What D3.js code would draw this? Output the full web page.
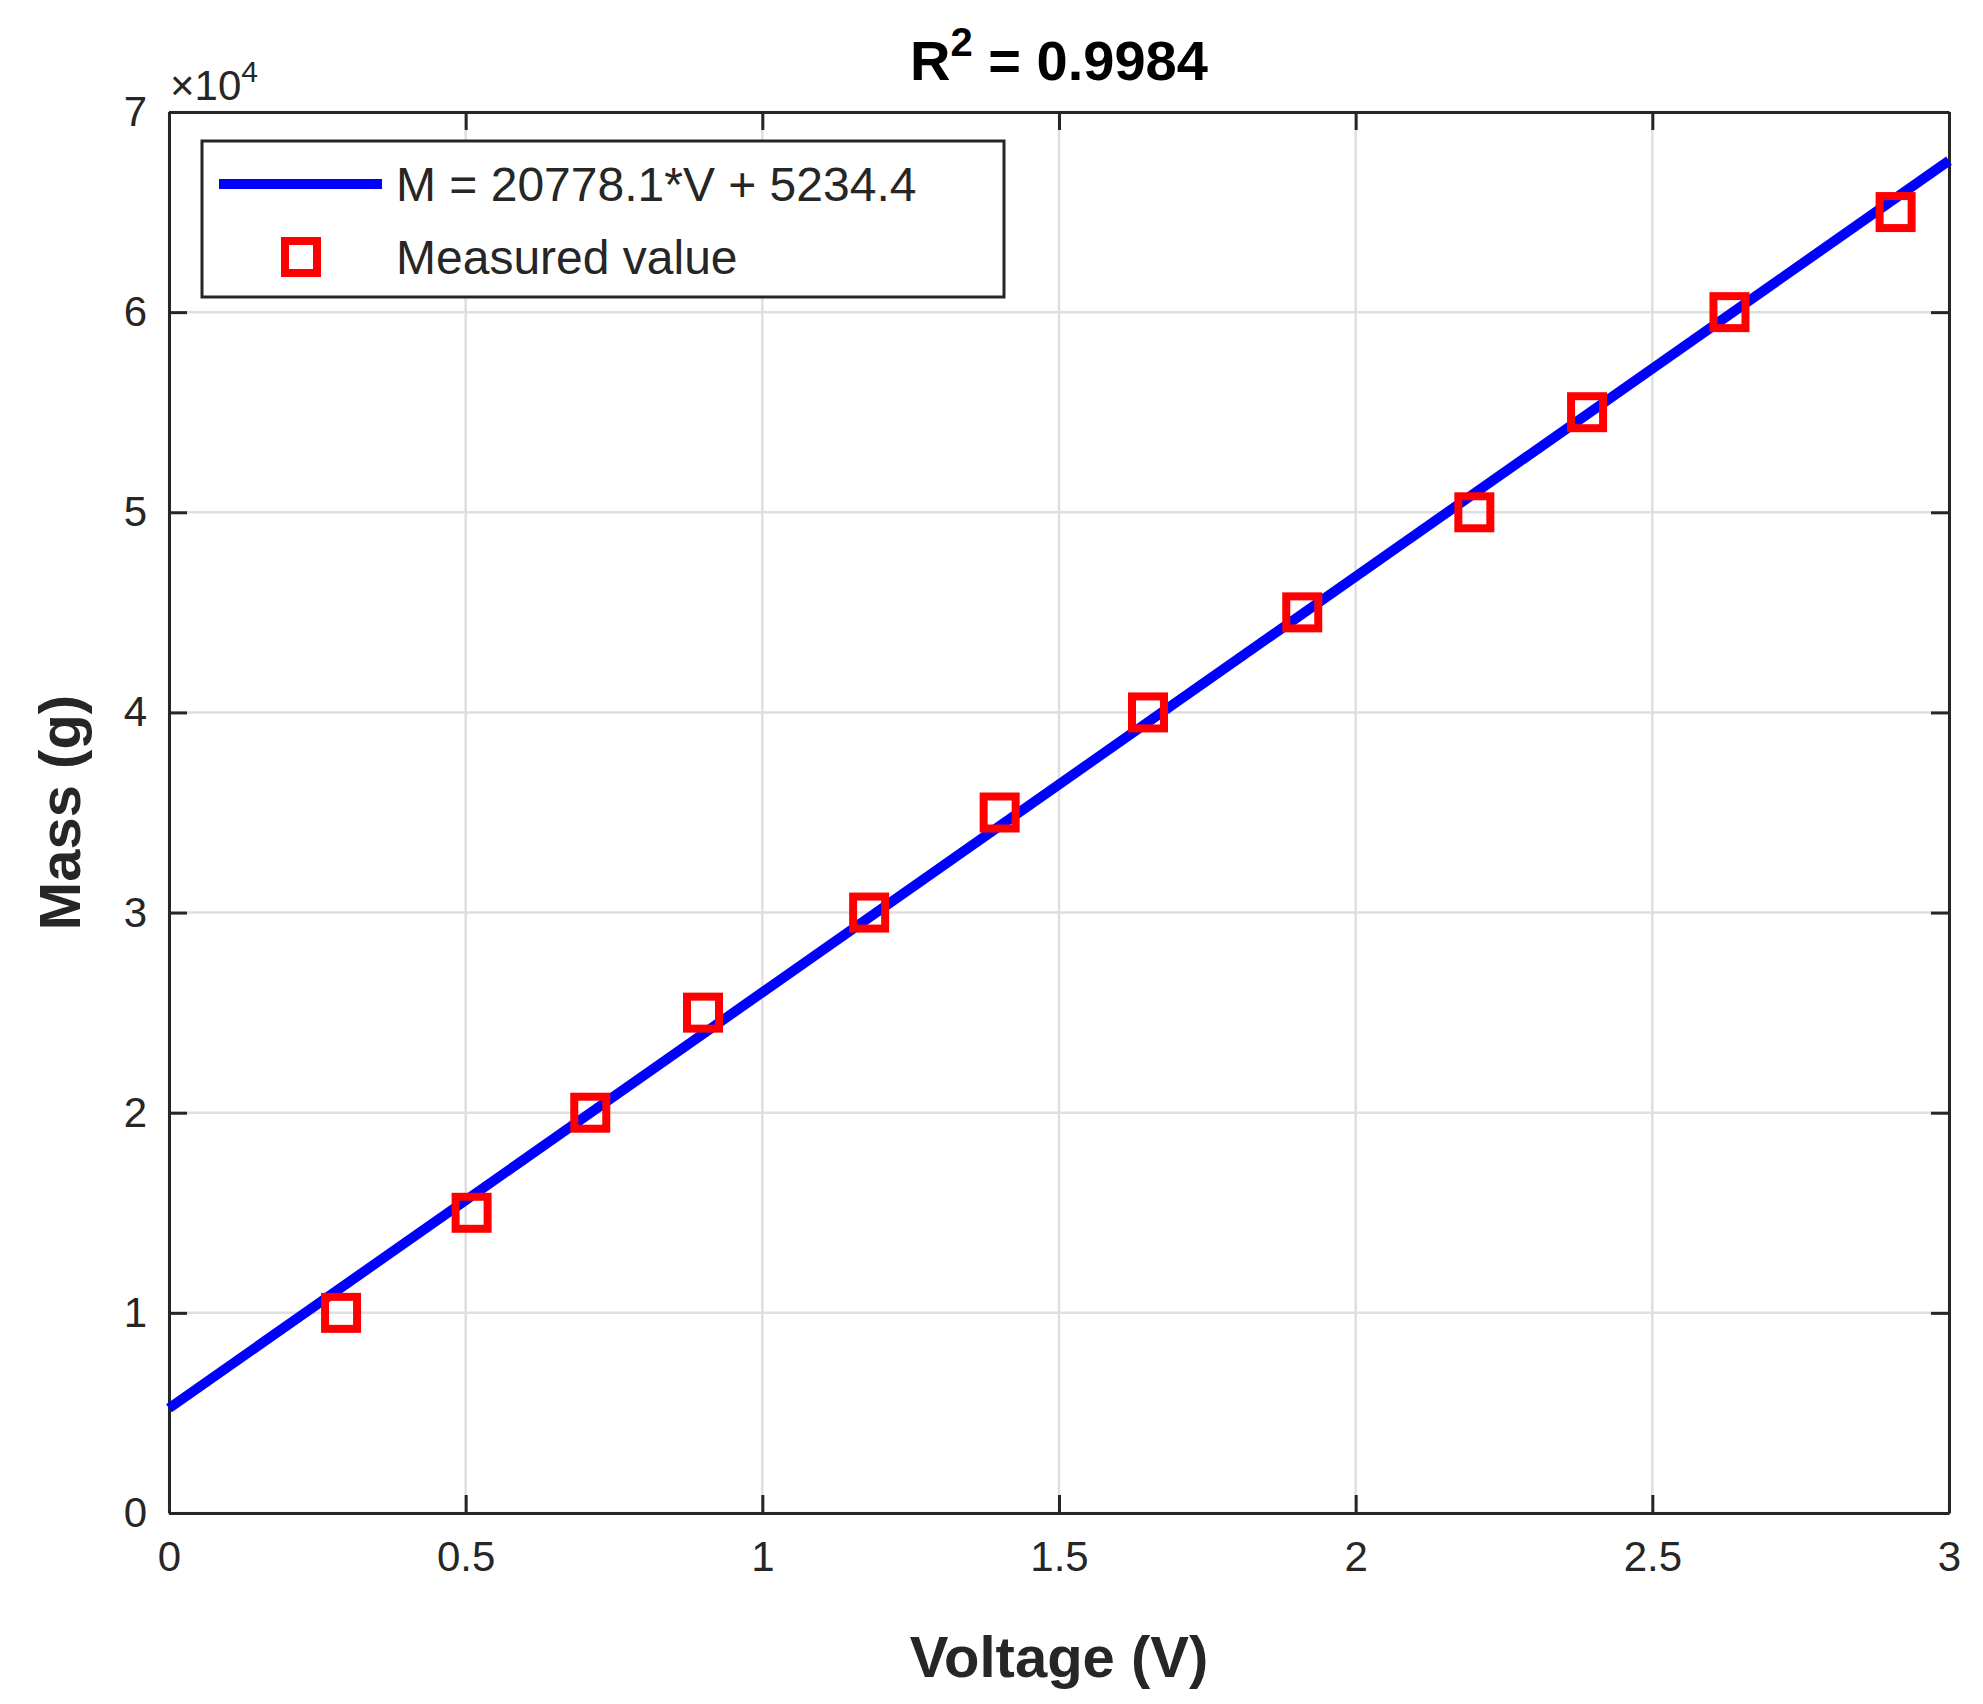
<!DOCTYPE html>
<html><head><meta charset="utf-8">
<script src="https://cdn.jsdelivr.net/npm/d3@7"></script>
<style>body{margin:0;background:#fff}text{font-family:"Liberation Sans",Arial,sans-serif;fill:#262626}</style>
</head><body>
<script>
// measured points
var voltage = [0.29, 0.51, 0.71, 0.90, 1.18, 1.40, 1.65, 1.91, 2.20, 2.39, 2.63, 2.91];
var mass    = [10000, 15000, 20000, 25000, 30000, 35000, 40000, 45000, 50000, 55000, 60000, 65000];
var fitSlope = 20778.1, fitIntercept = 5234.4;
var xTicks = [0, 0.5, 1, 1.5, 2, 2.5, 3];
var yTicks = [0, 1, 2, 3, 4, 5, 6, 7];

var W = 1983, H = 1704;
var L = 169, R = 1949, T = 112, B = 1513;

var svg = d3.select("body").append("svg").attr("width", W).attr("height", H);
var x = d3.scaleLinear().domain([0, 3]).range([L, R]);
var y = d3.scaleLinear().domain([0, 70000]).range([B, T]);

// grid
svg.selectAll(".gx").data(xTicks).enter().append("line")
   .attr("x1", function(d){return x(d);}).attr("x2", function(d){return x(d);})
   .attr("y1", T).attr("y2", B).style("stroke", "#dfdfdf").style("stroke-width", 2.5);
svg.selectAll(".gy").data(yTicks).enter().append("line")
   .attr("y1", function(d){return y(d*1e4);}).attr("y2", function(d){return y(d*1e4);})
   .attr("x1", L).attr("x2", R).style("stroke", "#dfdfdf").style("stroke-width", 2.5);

// axes
var ax = d3.axisBottom(x).tickValues(xTicks).tickSizeInner(-18).tickSizeOuter(0).tickPadding(28)
   .tickFormat(function(d){return d;});
var gx = svg.append("g").attr("transform", "translate(0," + B + ")").call(ax);
var gx2 = svg.append("g").attr("transform", "translate(0," + T + ")")
   .call(d3.axisTop(x).tickValues(xTicks).tickSizeInner(-18).tickSizeOuter(0).tickFormat(""));
var ay = d3.axisLeft(y).tickValues(yTicks.map(function(d){return d*1e4;})).tickSizeInner(-18).tickSizeOuter(0).tickPadding(22)
   .tickFormat(function(d){return d/1e4;});
var gy = svg.append("g").attr("transform", "translate(" + L + ",0)").call(ay);
var gy2 = svg.append("g").attr("transform", "translate(" + R + ",0)")
   .call(d3.axisRight(y).tickValues(yTicks.map(function(d){return d*1e4;})).tickSizeInner(-18).tickSizeOuter(0).tickFormat(""));
[gx, gx2, gy, gy2].forEach(function(g){
   g.selectAll("path").style("stroke", "#262626").style("stroke-width", 3);
   g.selectAll("line").style("stroke", "#262626").style("stroke-width", 3);
   g.selectAll("text").style("font-size", "42px").style("fill", "#262626")
    .style("font-family", '"Liberation Sans",Arial,sans-serif');
});
gx.selectAll("text").attr("dy", "0.71em");

// exponent
var ex = svg.append("text").attr("x", 170).attr("y", 100).style("font-size", "42px");
ex.append("tspan").text("\u00d710");
ex.append("tspan").attr("dy", -18).style("font-size", "30px").text("4");

// fit line
svg.append("line")
   .attr("x1", x(0)).attr("y1", y(fitIntercept))
   .attr("x2", x(3)).attr("y2", y(fitSlope*3 + fitIntercept))
   .style("stroke", "#0000ff").style("stroke-width", 10);

// markers
svg.selectAll(".pt").data(voltage).enter().append("rect")
   .attr("x", function(d){return x(d) - 16;})
   .attr("y", function(d, i){return y(mass[i]) - 16;})
   .attr("width", 32).attr("height", 32)
   .style("fill", "none").style("stroke", "#ff0000").style("stroke-width", 8);

// legend
svg.append("rect").attr("x", 202).attr("y", 141).attr("width", 802).attr("height", 156)
   .style("fill", "#fff").style("stroke", "#262626").style("stroke-width", 3);
svg.append("line").attr("x1", 219).attr("x2", 382).attr("y1", 184).attr("y2", 184)
   .style("stroke", "#0000ff").style("stroke-width", 10);
svg.append("text").attr("x", 396).attr("y", 201).style("font-size", "48px").text("M = 20778.1*V + 5234.4");
svg.append("rect").attr("x", 285).attr("y", 241).attr("width", 32).attr("height", 32)
   .style("fill", "none").style("stroke", "#ff0000").style("stroke-width", 8);
svg.append("text").attr("x", 396).attr("y", 274).style("font-size", "48px").text("Measured value");

// title and labels
var tt = svg.append("text").attr("x", (L+R)/2).attr("y", 80).attr("text-anchor", "middle")
   .style("font-size", "56px").style("font-weight", "bold").style("fill", "#000");
tt.append("tspan").text("R");
tt.append("tspan").attr("dy", -24).style("font-size", "40px").text("2");
tt.append("tspan").attr("dy", 24).text(" = 0.9984");
svg.append("text").attr("x", (L+R)/2).attr("y", 1677).attr("text-anchor", "middle")
   .style("font-size", "58px").style("font-weight", "bold").text("Voltage (V)");
svg.append("text").attr("transform", "translate(80," + ((T+B)/2) + ") rotate(-90)")
   .attr("text-anchor", "middle").style("font-size", "58px").style("font-weight", "bold").text("Mass (g)");
</script>
</body></html>
